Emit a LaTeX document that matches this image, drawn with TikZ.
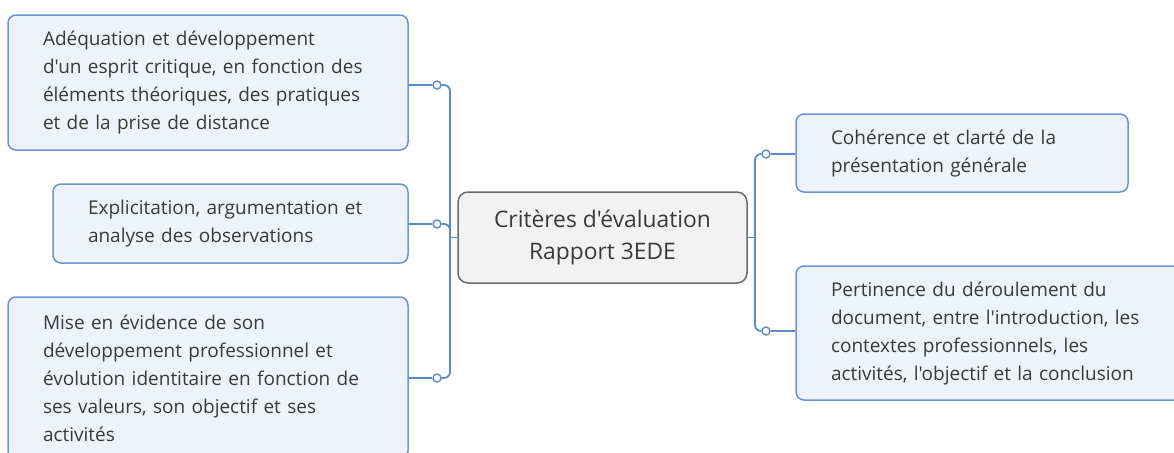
\documentclass[tikz,border=0pt]{standalone}
\usepackage{fontspec}
\setmainfont{Open Sans}[Ligatures=TeXOff]
\usepackage{tikz}
\usetikzlibrary{positioning}
\definecolor{boxfill}{HTML}{EEF2FA}
\definecolor{boxline}{HTML}{6A96CF}
\definecolor{linkblue}{HTML}{5B8AC6}
\definecolor{rootfill}{HTML}{F2F2F2}
\definecolor{rootline}{HTML}{6B6B6B}
\definecolor{txt}{HTML}{3A3A3A}
\tikzset{
  topic/.style={draw=boxline, fill=boxfill, line width=0.75pt, rounded corners=4pt, align=left,
    inner xsep=17.5pt, inner ysep=0pt, text=txt, font=\fontsize{9.5}{14}\selectfont},
  root/.style={draw=rootline, fill=rootfill, line width=0.75pt, rounded corners=5pt, align=center,
    minimum width=144.5pt, minimum height=45.5pt, text=txt, font=\fontsize{11.4}{16}\selectfont},
  link/.style={draw=linkblue, line width=0.9pt},
  knob/.style={circle, draw=linkblue, fill=white, line width=0.7pt, inner sep=0pt, minimum size=4pt}
}
\begin{document}
\begin{tikzpicture}[x=0.5pt, y=-0.5pt]
        \clip (0,0) rectangle (1174,452);
        \fill[white] (0,0) rectangle (1174,452);
        % central topic
        \node[root] (crit) at (602.5,237.5) {Critères d'évaluation\\Rapport 3EDE};
        
        % left side topics
        \node[topic, text width=165pt, minimum height=67.5pt] (adeq) at (208,82.5) {Adéquation et développement\\d'un esprit critique, en fonction des\\éléments théoriques, des pratiques\\et de la prise de distance};
        \node[topic, text width=142.5pt, minimum height=39.5pt] (expl) at (230.5,223.5) {Explicitation, argumentation et\\analyse des observations};
        \node[topic, text width=165pt, minimum height=81pt] (evid) at (208,378) {Mise en évidence de son\\développement professionnel et\\évolution identitaire en fonction de\\ses valeurs, son objectif et ses\\activités};
        
        % right side topics
        \node[topic, text width=131pt, minimum height=39pt] (cohe) at (962,153) {Cohérence et clarté de la\\présentation générale};
        \node[topic, text width=166pt, minimum height=67pt] (pert) at (997,333) {Pertinence du déroulement du\\document, entre l'introduction, les\\contextes professionnels, les\\activités, l'objectif et la conclusion};
        
        % junctions and knobs
        \coordinate (jl) at (450,237.5);
        \coordinate (jr) at (755,237.5);
        \node[knob] (kadeq) at (437,85) {};
        \node[knob] (kexpl) at (437,224) {};
        \node[knob] (kevid) at (437,378) {};
        \node[knob] (kcohe) at (766,154) {};
        \node[knob] (kpert) at (766,331) {};
        
        % left connectors
        \draw[link] (crit.west) -- (jl);
        \draw[link, rounded corners=3pt] (jl) |- (kadeq);
        \draw[link, rounded corners=3pt] (jl) |- (kexpl);
        \draw[link, rounded corners=3pt] (jl) |- (kevid);
        \draw[link] (kadeq) -- (kadeq -| adeq.east);
        \draw[link] (kexpl) -- (kexpl -| expl.east);
        \draw[link] (kevid) -- (kevid -| evid.east);
        
        % right connectors
        \draw[link] (crit.east) -- (jr);
        \draw[link, rounded corners=3pt] (jr) |- (kcohe);
        \draw[link, rounded corners=3pt] (jr) |- (kpert);
        \draw[link] (kcohe) -- (kcohe -| cohe.west);
        \draw[link] (kpert) -- (kpert -| pert.west);
    \end{tikzpicture}
\end{document}
